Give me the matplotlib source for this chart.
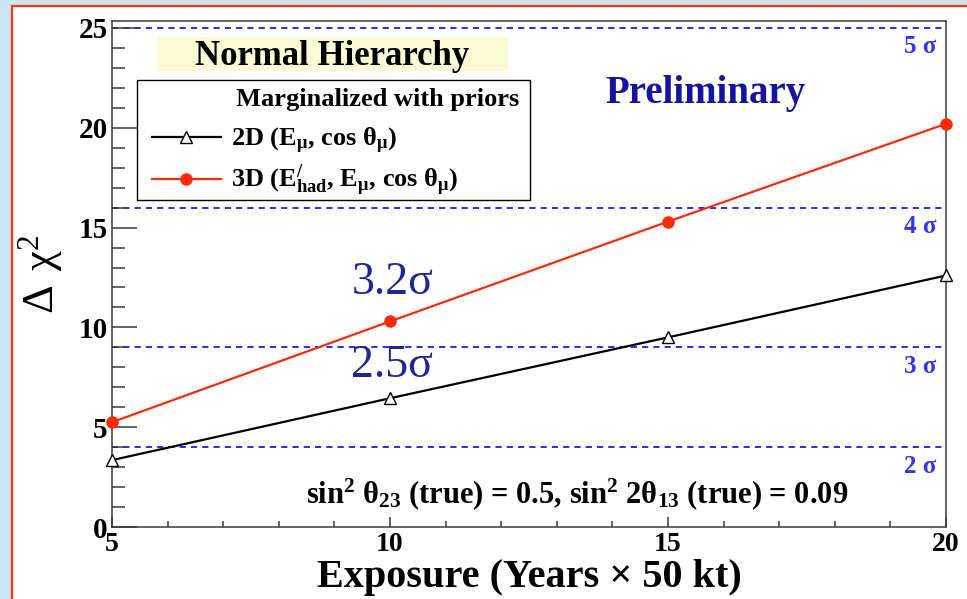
import matplotlib
matplotlib.use("Agg")
import matplotlib.pyplot as plt
from matplotlib.patches import Rectangle
from matplotlib.ticker import MultipleLocator

plt.rcParams["font.family"] = ["Liberation Serif", "DejaVu Serif"]
plt.rcParams["mathtext.fontset"] = "custom"
plt.rcParams["mathtext.rm"] = "Liberation Serif"
plt.rcParams["mathtext.bf"] = "Liberation Serif:bold"
plt.rcParams["mathtext.default"] = "regular"

# data
exposure = [5, 10, 15, 20]
chi2_2d = [3.35, 6.45, 9.5, 12.6]
chi2_3d = [5.25, 10.3, 15.3, 20.2]

sigma_levels = [4, 9, 16, 25]
sigma_labels = ["2 σ", "3 σ", "4 σ", "5 σ"]

label_2d = r"2D (E$_{\mu}$, cos $\theta_{\mu}$)"
label_3d = r"3D (E$^{/}_{had}$, E$_{\mu}$, cos $\theta_{\mu}$)"

W, H = 967, 599
fig = plt.figure(figsize=(W / 100, H / 100), dpi=100)
fig.patch.set_facecolor("#cbe5f7")

# white pad with red border (extends past right/bottom edge)
pad = Rectangle((12 / W, -0.1), 1.2, 1 - 6 / H + 0.1, transform=fig.transFigure,
                facecolor="white", edgecolor="#ff3412", linewidth=1.6, zorder=-5)
fig.patches.append(pad)

ax = fig.add_axes([112 / W, 1 - 527 / H, (946 - 112) / W, (527 - 21) / H])
ax.set_facecolor("none")
ax.set_xlim(5, 20)
ax.set_ylim(0, 25.35)

for lev in sigma_levels:
    ax.axhline(lev, color="#2a2aff", lw=1.4, dashes=(3.2, 2.6), zorder=1)
for lev, lab in zip(sigma_levels, sigma_labels):
    ax.text(19.83, lev - 0.95, lab, color="#3535ee", fontsize=18, fontweight="bold",
            ha="right", va="center")

ax.plot(exposure, chi2_2d, color="black", lw=1.6, marker="^", ms=9,
        mfc="white", mec="black", mew=1.0, clip_on=False, zorder=3, label=label_2d)
ax.plot(exposure, chi2_3d, color="#ff2a0a", lw=1.6, marker="o", ms=8,
        mfc="#ff2a0a", mec="#ff2a0a", clip_on=False, zorder=3, label=label_3d)

# axes styling
for side in ["left", "right", "top", "bottom"]:
    ax.spines[side].set_color("#3a3a3a")
    ax.spines[side].set_linewidth(1.1)
ax.xaxis.set_major_locator(MultipleLocator(5))
ax.xaxis.set_minor_locator(MultipleLocator(1))
ax.yaxis.set_major_locator(MultipleLocator(5))
ax.yaxis.set_minor_locator(MultipleLocator(1))
ax.tick_params(axis="y", which="major", direction="in", length=18, width=1.1,
               color="#3a3a3a", labelsize=21, pad=3, right=False)
ax.tick_params(axis="y", which="minor", direction="in", length=9, width=1.1,
               color="#3a3a3a", right=False)
ax.tick_params(axis="x", which="major", direction="in", length=7, width=1.1,
               color="#3a3a3a", labelsize=20, pad=3.5, top=False)
ax.tick_params(axis="x", which="minor", direction="in", length=4, width=1.1,
               color="#3a3a3a", top=False)
for lbl in ax.get_xticklabels() + ax.get_yticklabels():
    lbl.set_fontweight("bold")

ax.set_xlabel("Exposure (Years × 50 kt)", fontsize=29, fontweight="bold", labelpad=1.5)
ax.set_ylabel(r"$\Delta\ \chi^{2}$", fontsize=32, labelpad=10)

# Normal Hierarchy header
ax.add_patch(Rectangle((0.054, 0.901), 0.421, 0.067, transform=ax.transAxes,
                       facecolor="#fafad4", edgecolor="none", zorder=2))
ax.text(0.264, 0.930, "Normal Hierarchy", transform=ax.transAxes, fontsize=25,
        fontweight="bold", ha="center", va="center", zorder=3)

# legend box
ax.add_patch(Rectangle((0.030, 0.646), 0.471, 0.237, transform=ax.transAxes,
                       facecolor="white", edgecolor="black", lw=1.0, zorder=4))
ax.text(0.149, 0.844, "Marginalized with priors", transform=ax.transAxes,
        fontsize=19, fontweight="bold", ha="left", va="center", zorder=5)
leg = ax.legend(loc="upper left", bbox_to_anchor=(0.048, 0.793), frameon=False,
                borderpad=0, borderaxespad=0, handlelength=2.6, handletextpad=0.4,
                labelspacing=0.28, prop={"size": 19, "weight": "bold"})
leg.set_zorder(6)

ax.text(15.67, 21.74, "Preliminary", color="#1414a0", fontsize=28, fontweight="bold",
        ha="center", va="center")
ax.text(10.04, 12.22, "3.2σ", color="#1c2896", fontsize=33, ha="center", va="center")
ax.text(10.04, 8.07, "2.5σ", color="#1c2896", fontsize=33, ha="center", va="center")
ax.text(13.36, 1.65, r"sin$^{2}$ $\theta_{23}$ (true) = 0.5, sin$^{2}$ 2$\theta_{13}$ (true) = 0.09",
        fontsize=22, fontweight="bold", ha="center", va="center")

fig.savefig("out.png", dpi=100, facecolor=fig.get_facecolor())
